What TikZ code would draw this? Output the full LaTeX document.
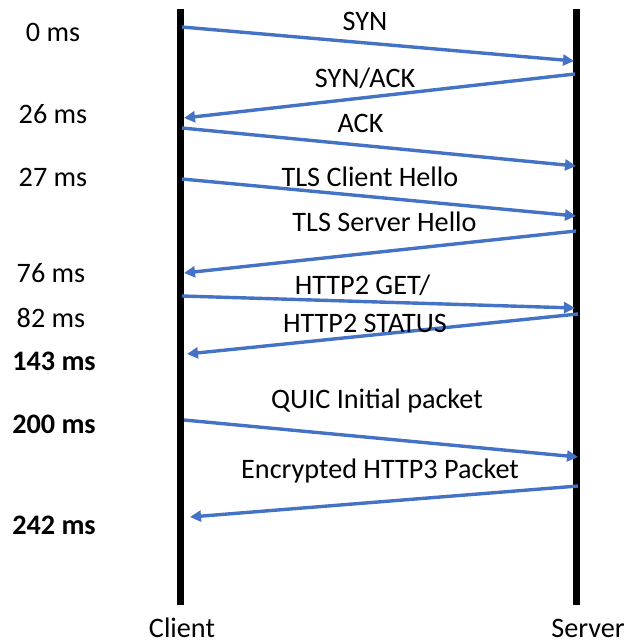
\documentclass[tikz,border=0pt]{standalone}
\usepackage{fontspec}
\setmainfont{Carlito}
\usetikzlibrary{arrows.meta}
\definecolor{msgblue}{RGB}{68,114,196}
\tikzset{
  lifeline/.style={line width=7pt,black},
  msg/.style={line width=3.4pt,msgblue,-{Triangle[length=11pt,width=11pt]}},
  lbl/.style={anchor=base,inner sep=0pt,font=\fontsize{28.2}{32}\selectfont},
  tlbl/.style={lbl},
  tbold/.style={lbl,font=\fontsize{28.2}{32}\selectfont\bfseries}
}
\begin{document}
\begin{tikzpicture}[x=1pt,y=-1pt]
\useasboundingbox (0,0) rectangle (625,644);
% lifelines
\coordinate (ct) at (180,9.5);
\coordinate (cb) at (180,605);
\coordinate (st) at (576.5,9.5);
\coordinate (sb) at (576.5,605);
\draw[lifeline] (ct) -- (cb);
\draw[lifeline] (st) -- (sb);
\node[lbl] (client) at (182,637) {Client};
\node[lbl] (server) at (588,637) {Server};
% message endpoints
\coordinate (a1) at (182,27);   \coordinate (b1) at (574,61);
\coordinate (a2) at (575,74);   \coordinate (b2) at (184,118);
\coordinate (a3) at (182,128);  \coordinate (b3) at (576,166);
\coordinate (a4) at (182,179);  \coordinate (b4) at (576,216);
\coordinate (a5) at (576,231);  \coordinate (b5) at (184,273);
\coordinate (a6) at (182,296);  \coordinate (b6) at (575,308);
\coordinate (a7) at (578,314);  \coordinate (b7) at (187,354);
\coordinate (a8) at (184,420);  \coordinate (b8) at (578,457);
\coordinate (a9) at (578,486);  \coordinate (b9) at (190,517);
\draw[msg] (a1) -- (b1);
\draw[msg] (a2) -- (b2);
\draw[msg] (a3) -- (b3);
\draw[msg] (a4) -- (b4);
\draw[msg] (a5) -- (b5);
\draw[msg] (a6) -- (b6);
\draw[msg] (a7) -- (b7);
\draw[msg] (a8) -- (b8);
\draw[msg] (a9) -- (b9);
% message labels
\node[lbl] (m1) at (365,31) {SYN};
\node[lbl] (m2) at (365,88) {SYN/ACK};
\node[lbl] (m3) at (360.5,133) {ACK};
\node[lbl] (m4) at (370,186) {TLS Client Hello};
\node[lbl] (m5) at (384.5,231) {TLS Server Hello};
\node[lbl] (m6) at (362.5,294) {HTTP2 GET/};
\node[lbl] (m7) at (365,332) {HTTP2 STATUS};
\node[lbl] (m8) at (377,408) {QUIC Initial packet};
\node[lbl] (m9) at (380,478) {Encrypted HTTP3 Packet};
% time labels
\node[tlbl] (t1) at (53,42) {0 ms};
\node[tlbl] (t2) at (53,124) {26 ms};
\node[tlbl] (t3) at (53,186) {27 ms};
\node[tlbl] (t4) at (51,282) {76 ms};
\node[tlbl] (t5) at (51,327) {82 ms};
\node[tbold] (t6) at (54,370) {143 ms};
\node[tbold] (t7) at (54,433) {200 ms};
\node[tbold] (t8) at (54,534) {242 ms};
\end{tikzpicture}
\end{document}
